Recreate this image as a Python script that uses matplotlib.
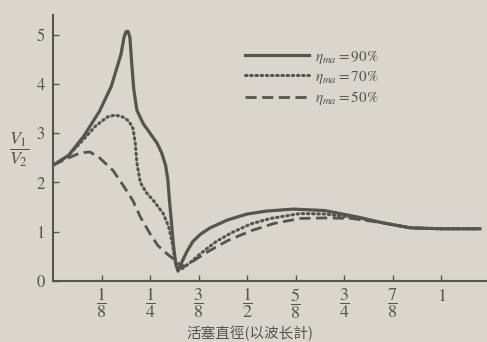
import matplotlib
matplotlib.use("Agg")
import matplotlib.pyplot as plt
import numpy as np

# curve data (x in wavelengths, y = V1/V2)
x90 = [0, 0.04, 0.08, 0.12, 0.15, 0.175, 0.183, 0.188, 0.193, 0.198, 0.203, 0.208, 0.216, 0.232,
       0.25, 0.268, 0.28, 0.29, 0.296, 0.30, 0.305, 0.31, 0.316, 0.322, 0.33, 0.345, 0.36, 0.38,
       0.405, 0.45, 0.5, 0.55, 0.62, 0.7, 0.79, 0.85, 0.92, 1.0, 1.1]
y90 = [2.35, 2.55, 2.95, 3.45, 3.95, 4.6, 4.95, 5.06, 5.07, 4.95, 4.4, 3.9, 3.47, 3.2,
       3.0, 2.8, 2.6, 2.35, 2.05, 1.63, 1.2, 0.75, 0.35, 0.2, 0.35, 0.6, 0.8, 0.95,
       1.08, 1.24, 1.36, 1.42, 1.46, 1.43, 1.29, 1.18, 1.08, 1.06, 1.06]

x70 = [0, 0.04, 0.077, 0.11, 0.14, 0.16, 0.18, 0.195, 0.206, 0.212, 0.216, 0.225, 0.24, 0.26,
       0.284, 0.298, 0.306, 0.314, 0.322, 0.33, 0.35, 0.379, 0.42, 0.46, 0.51, 0.56, 0.637,
       0.7, 0.79, 0.85, 0.92, 1.0, 1.1]
y70 = [2.35, 2.55, 2.86, 3.15, 3.33, 3.37, 3.33, 3.25, 3.1, 2.8, 2.4, 2.0, 1.8, 1.62,
       1.37, 1.1, 0.82, 0.45, 0.25, 0.24, 0.35, 0.55, 0.8, 0.98, 1.16, 1.27, 1.37,
       1.36, 1.27, 1.18, 1.08, 1.06, 1.06]

x50 = [0, 0.04, 0.07, 0.095, 0.12, 0.155, 0.18, 0.206, 0.225, 0.25, 0.27, 0.294, 0.31, 0.327,
       0.34, 0.36, 0.4, 0.45, 0.51, 0.57, 0.637, 0.7, 0.77, 0.85, 0.92, 1.0, 1.1]
y50 = [2.35, 2.5, 2.6, 2.62, 2.5, 2.24, 1.95, 1.63, 1.3, 0.96, 0.72, 0.55, 0.45, 0.33,
       0.3, 0.4, 0.6, 0.82, 1.02, 1.17, 1.27, 1.28, 1.27, 1.18, 1.08, 1.06, 1.06]

xticks = [1/8, 1/4, 3/8, 1/2, 5/8, 3/4, 7/8, 1]
xticklabels = [r'$\dfrac{1}{8}$', r'$\dfrac{1}{4}$', r'$\dfrac{3}{8}$', r'$\dfrac{1}{2}$',
               r'$\dfrac{5}{8}$', r'$\dfrac{3}{4}$', r'$\dfrac{7}{8}$', r'$1$']
yticks = [0, 1, 2, 3, 4, 5]
labels = [r'$\eta_{ma}=90\%$', r'$\eta_{ma}=70\%$', r'$\eta_{ma}=50\%$']

bg = '#d8d6cd'
ink = '#55544f'

plt.rcParams['mathtext.fontset'] = 'stix'
plt.rcParams['font.family'] = ['DejaVu Serif']

fig = plt.figure(figsize=(4.87, 3.42), dpi=100, facecolor=bg)
ax = fig.add_axes([53/487, 61/342, 1 - 53/487, 0.956 - 61/342], facecolor=bg)

l1, = ax.plot(x90, y90, color=ink, lw=2.3, solid_joinstyle='round')
l2, = ax.plot(x70, y70, color=ink, lw=2.2, linestyle=(0, (0.5, 1.2)), dash_capstyle='round')
l3, = ax.plot(x50, y50, color=ink, lw=2.0, linestyle=(0, (4, 2)))

ax.set_xlim(0, 1.118)
ax.set_ylim(0, 5.4)
for s in ['top', 'right']:
    ax.spines[s].set_visible(False)
for s in ['left', 'bottom']:
    ax.spines[s].set_color(ink)
    ax.spines[s].set_linewidth(1.5)

ax.set_xticks(xticks)
ax.set_xticklabels(xticklabels, fontsize=13, color=ink)
ax.set_yticks(yticks)
ax.set_yticklabels([str(v) for v in yticks], fontsize=12, color=ink,
                   family='STIXGeneral')
ax.tick_params(direction='in', length=4, width=1, color=ink, pad=4)
ax.tick_params(axis='y', pad=6)

leg = ax.legend([l1, l2, l3], labels, loc='upper left', bbox_to_anchor=(0.41, 0.925),
                frameon=False, fontsize=11, handlelength=4.2, handletextpad=0.4,
                labelspacing=0.2, labelcolor=ink)

fig.text(250/487, 1 - 333/342, '活塞直徑(以波长計)', ha='center', va='center',
         fontsize=10.5, color=ink, family=['Noto Sans CJK SC', 'DejaVu Sans'])
fig.text(19/487, 1 - 150/342, r'$\dfrac{V_1}{V_2}$', ha='center', va='center',
         fontsize=13, color=ink)

fig.savefig('out.png', dpi=100, facecolor=bg)
